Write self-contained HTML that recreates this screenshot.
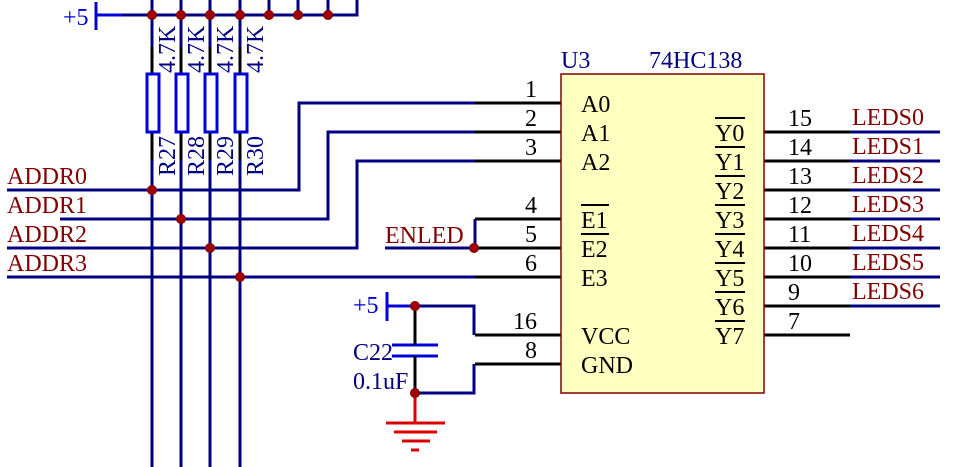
<!DOCTYPE html>
<html><head><meta charset="utf-8"><style>
html,body{margin:0;padding:0;background:#fff;}
svg{display:block;}
text{font-family:"Liberation Serif",serif;font-size:24px;}
.n{fill:#000080}.r{fill:#800000}.k{fill:#000}
</style></head><body>
<svg width="965" height="467" viewBox="0 0 965 467" xmlns="http://www.w3.org/2000/svg">
<g fill="none" stroke="#000080" stroke-width="3">
<line x1="96" y1="2" x2="96" y2="30" stroke="#0000dd"/>
<line x1="96" y1="15" x2="122" y2="15" stroke="#0000dd"/>
<polyline points="122,15 357,15 357,0"/>
<line x1="269" y1="0" x2="269" y2="15"/>
<line x1="298" y1="0" x2="298" y2="15"/>
<line x1="328" y1="0" x2="328" y2="15"/>
<line x1="152" y1="0" x2="152" y2="47"/><line x1="152" y1="160" x2="152" y2="467"/>
<line x1="181" y1="0" x2="181" y2="47"/><line x1="181" y1="160" x2="181" y2="467"/>
<line x1="210" y1="0" x2="210" y2="47"/><line x1="210" y1="160" x2="210" y2="467"/>
<line x1="240" y1="0" x2="240" y2="47"/><line x1="240" y1="160" x2="240" y2="467"/>
<polyline points="7,190 299,190 299,103 475,103"/>
<polyline points="60,219 328,219 328,132 475,132"/>
<polyline points="7,248 357,248 357,161 475,161"/>
<line x1="7" y1="277" x2="475" y2="277"/>
<polyline points="385,248 475,248"/>
<polyline points="475,219 475,248"/>
<line x1="387" y1="292" x2="387" y2="321" stroke="#0000dd"/>
<line x1="387" y1="306" x2="415" y2="306" stroke="#0000dd"/>
<polyline points="415,306 474,306 474,335"/>
<polyline points="415,393 474,393 474,364"/>
<line x1="392" y1="345" x2="438" y2="345" stroke="#0000dd"/>
<line x1="392" y1="356" x2="438" y2="356" stroke="#0000dd"/>
<line x1="850" y1="132" x2="940" y2="132"/>
<line x1="850" y1="161" x2="940" y2="161"/>
<line x1="850" y1="190" x2="940" y2="190"/>
<line x1="850" y1="219" x2="940" y2="219"/>
<line x1="850" y1="248" x2="940" y2="248"/>
<line x1="850" y1="277" x2="940" y2="277"/>
<line x1="850" y1="306" x2="940" y2="306"/>
</g>
<g stroke="#000" stroke-width="3">
<line x1="152" y1="47" x2="152" y2="74"/><line x1="152" y1="132" x2="152" y2="160"/>
<line x1="181" y1="47" x2="181" y2="74"/><line x1="181" y1="132" x2="181" y2="160"/>
<line x1="210" y1="47" x2="210" y2="74"/><line x1="210" y1="132" x2="210" y2="160"/>
<line x1="240" y1="47" x2="240" y2="74"/><line x1="240" y1="132" x2="240" y2="160"/>
<line x1="415" y1="306" x2="415" y2="345"/><line x1="415" y1="356" x2="415" y2="393"/>
<line x1="475" y1="103" x2="561" y2="103"/>
<line x1="475" y1="132" x2="561" y2="132"/>
<line x1="475" y1="161" x2="561" y2="161"/>
<line x1="475" y1="219" x2="561" y2="219"/>
<line x1="475" y1="248" x2="561" y2="248"/>
<line x1="475" y1="277" x2="561" y2="277"/>
<line x1="475" y1="335" x2="561" y2="335"/>
<line x1="475" y1="364" x2="561" y2="364"/>
<line x1="764" y1="132" x2="850" y2="132"/>
<line x1="764" y1="161" x2="850" y2="161"/>
<line x1="764" y1="190" x2="850" y2="190"/>
<line x1="764" y1="219" x2="850" y2="219"/>
<line x1="764" y1="248" x2="850" y2="248"/>
<line x1="764" y1="277" x2="850" y2="277"/>
<line x1="764" y1="306" x2="850" y2="306"/>
<line x1="764" y1="335" x2="850" y2="335"/>
</g>
<g fill="#fff" stroke="#0000dd" stroke-width="3">
<rect x="147" y="74" width="12" height="58"/>
<rect x="176" y="74" width="12" height="58"/>
<rect x="205" y="74" width="12" height="58"/>
<rect x="235" y="74" width="12" height="58"/>
</g>
<g stroke="#dd0000" stroke-width="3">
<line x1="415" y1="393" x2="415" y2="423"/>
<line x1="386" y1="423" x2="445" y2="423"/>
<line x1="394" y1="432" x2="437" y2="432"/>
<line x1="402" y1="441" x2="430" y2="441"/>
<line x1="411" y1="450" x2="419" y2="450"/>
</g>
<rect x="561" y="74" width="203" height="319" fill="#ffffc0" stroke="#800000" stroke-width="1.5"/>
<g fill="#a00000" stroke="#800000" stroke-width="1">
<circle cx="152" cy="15" r="4.5"/><circle cx="181" cy="15" r="4.5"/><circle cx="210" cy="15" r="4.5"/><circle cx="240" cy="15" r="4.5"/>
<circle cx="269" cy="15" r="4.5"/><circle cx="298" cy="15" r="4.5"/><circle cx="328" cy="15" r="4.5"/>
<circle cx="152" cy="190" r="4.5"/><circle cx="181" cy="219" r="4.5"/><circle cx="210" cy="248" r="4.5"/><circle cx="240" cy="277" r="4.5"/>
<circle cx="474" cy="248" r="4.5"/><circle cx="415" cy="306" r="4.5"/><circle cx="415" cy="393" r="4.5"/>
</g>
<text x="63" y="25" fill="#0000dd">+5</text>
<text x="353" y="313" fill="#0000dd">+5</text>
<text x="353" y="360" class="n">C22</text>
<text x="353" y="389" class="n">0.1uF</text>
<g class="n">
<text transform="translate(175,73) rotate(-90)">4.7K</text>
<text transform="translate(204,73) rotate(-90)">4.7K</text>
<text transform="translate(233,73) rotate(-90)">4.7K</text>
<text transform="translate(263,73) rotate(-90)">4.7K</text>
<text transform="translate(175,176) rotate(-90)">R27</text>
<text transform="translate(204,176) rotate(-90)">R28</text>
<text transform="translate(233,176) rotate(-90)">R29</text>
<text transform="translate(263,176) rotate(-90)">R30</text>
<text x="561" y="68">U3</text>
<text x="649" y="68">74HC138</text>
</g>
<g class="r">
<text x="7" y="184">ADDR0</text>
<text x="7" y="213">ADDR1</text>
<text x="7" y="242">ADDR2</text>
<text x="7" y="271">ADDR3</text>
<text x="385" y="243">ENLED</text>
<text x="852" y="125">LEDS0</text>
<text x="852" y="154">LEDS1</text>
<text x="852" y="183">LEDS2</text>
<text x="852" y="212">LEDS3</text>
<text x="852" y="241">LEDS4</text>
<text x="852" y="270">LEDS5</text>
<text x="852" y="299">LEDS6</text>
</g>
<g class="k">
<text x="537" y="97" text-anchor="end">1</text>
<text x="537" y="126" text-anchor="end">2</text>
<text x="537" y="155" text-anchor="end">3</text>
<text x="537" y="213" text-anchor="end">4</text>
<text x="537" y="242" text-anchor="end">5</text>
<text x="537" y="271" text-anchor="end">6</text>
<text x="537" y="329" text-anchor="end">16</text>
<text x="537" y="358" text-anchor="end">8</text>
<text x="788" y="126">15</text>
<text x="788" y="155">14</text>
<text x="788" y="184">13</text>
<text x="788" y="213">12</text>
<text x="788" y="242">11</text>
<text x="788" y="271">10</text>
<text x="788" y="300">9</text>
<text x="788" y="329">7</text>
<text x="581" y="112">A0</text>
<text x="581" y="141">A1</text>
<text x="581" y="170">A2</text>
<text x="581" y="228">E1</text>
<text x="581" y="257">E2</text>
<text x="581" y="286">E3</text>
<text x="581" y="344">VCC</text>
<text x="581" y="373">GND</text>
<text x="715" y="141">Y0</text>
<text x="715" y="170">Y1</text>
<text x="715" y="199">Y2</text>
<text x="715" y="228">Y3</text>
<text x="715" y="257">Y4</text>
<text x="715" y="286">Y5</text>
<text x="715" y="315">Y6</text>
<text x="715" y="344">Y7</text>
</g>
<g stroke="#000" stroke-width="2">
<line x1="581" y1="205" x2="609" y2="205"/>
<line x1="581" y1="234" x2="609" y2="234"/>
<line x1="715" y1="118" x2="745" y2="118"/>
<line x1="715" y1="147" x2="745" y2="147"/>
<line x1="715" y1="176" x2="745" y2="176"/>
<line x1="715" y1="205" x2="745" y2="205"/>
<line x1="715" y1="234" x2="745" y2="234"/>
<line x1="715" y1="263" x2="745" y2="263"/>
<line x1="715" y1="292" x2="745" y2="292"/>
<line x1="715" y1="321" x2="745" y2="321"/>
</g>
</svg>
</body></html>
